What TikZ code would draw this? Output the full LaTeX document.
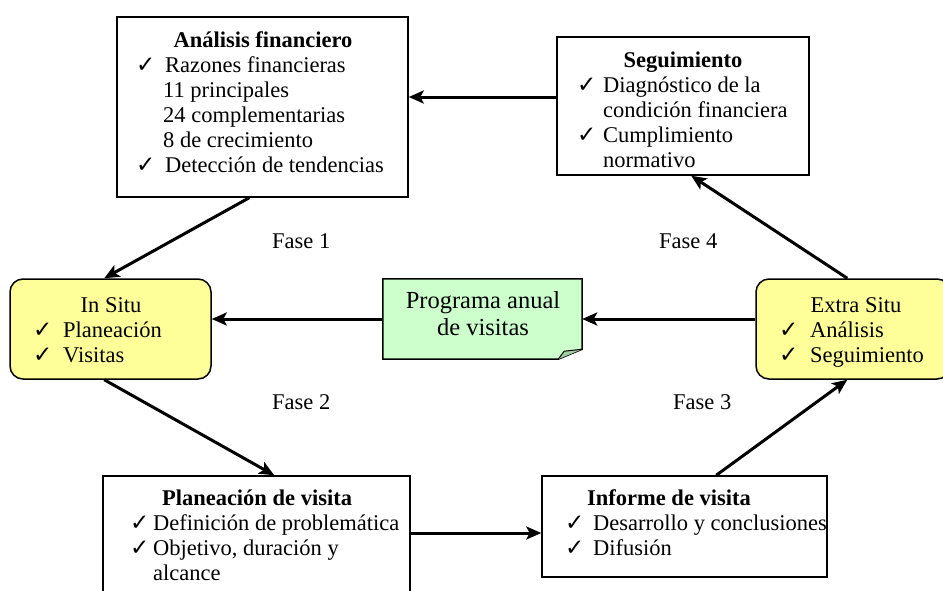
\documentclass[tikz,border=0pt]{standalone}
\usepackage{fontspec}
\setmainfont{Liberation Serif}
\newfontfamily\ckfont{DejaVu Sans}
\usetikzlibrary{arrows.meta,calc}

\definecolor{boxyellow}{RGB}{255,255,153}
\definecolor{notegreen}{RGB}{204,255,204}
\definecolor{notefold}{RGB}{160,205,160}

% check mark followed by text, the text starting #1 after the mark
\newcommand{\ck}{{\ckfont\fontsize{23}{23}\selectfont ✓}}
\newcommand{\chk}[2]{\makebox[#1][l]{\ck}#2}
\newcommand{\ind}[2]{\hspace*{#1}#2}

\begin{document}
\begin{tikzpicture}[x=1pt,y=-1pt,
  box/.style={draw, line width=1.5pt, inner sep=0pt},
  roundbox/.style={box, rounded corners=13pt, fill=boxyellow},
  txt/.style={inner sep=0pt, font=\fontsize{22.5}{25}\selectfont},
  flow/.style={line width=3pt, -{Stealth[length=15pt,width=13pt,inset=3.5pt]}},
]
\useasboundingbox (0,0) rectangle (943,590);
\fill[white] (0,0) rectangle (943,590);

% ---- boxes ----
\node[box, minimum width=291pt, minimum height=180pt] (fin) at (262.5,107) {};
\node[box, minimum width=252pt, minimum height=138pt] (seg) at (683,106) {};
\node[roundbox, minimum width=201pt, minimum height=100pt] (insitu) at (110.5,329) {};
\node[roundbox, minimum width=194pt, minimum height=100pt] (extra) at (853,329) {};
\node[inner sep=0pt, minimum width=199pt, minimum height=80pt] (prog) at (482.5,319) {};
\node[box, minimum width=307pt, minimum height=134pt] (plan) at (256.5,543) {};
\node[box, minimum width=285pt, minimum height=101pt] (inf) at (684.5,526.5) {};

% folded-corner note
\filldraw[fill=notegreen, line width=1.5pt]
  (prog.north west) -- (prog.north east) -- ($(prog.south east)+(0,-10)$)
  -- ($(prog.south east)+(-24,0)$) -- (prog.south west) -- cycle;
\filldraw[fill=notefold, line width=1pt, line join=round]
  ($(prog.south east)+(-24,0)$) -- ($(prog.south east)+(-18,-8)$)
  -- ($(prog.south east)+(0,-10)$);

% ---- texts ----
\node[txt, anchor=base] (fintitle) at (263,47) {\bfseries Análisis financiero};
\node[txt, anchor=base west] (finlist) at (136,72) {\begin{tabular}[t]{@{}l@{}}
  \chk{29pt}{Razones financieras}\\
  \ind{27pt}{11 principales}\\
  \ind{27pt}{24 complementarias}\\
  \ind{27pt}{8 de crecimiento}\\
  \chk{29pt}{Detección de tendencias}
\end{tabular}};

\node[txt, anchor=base] (segtitle) at (683,67) {\bfseries Seguimiento};
\node[txt, anchor=base west] (seglist) at (577,92) {\begin{tabular}[t]{@{}l@{}}
  \chk{26pt}{Diagnóstico de la}\\
  \ind{26pt}{condición financiera}\\
  \chk{26pt}{Cumplimiento}\\
  \ind{26pt}{normativo}
\end{tabular}};

\node[txt, anchor=base] (insitutitle) at (111,312) {In Situ};
\node[txt, anchor=base west] (insitulist) at (33,337) {\begin{tabular}[t]{@{}l@{}}
  \chk{30pt}{Planeación}\\
  \chk{30pt}{Visitas}
\end{tabular}};

\node[txt, anchor=base] (extratitle) at (856,312) {Extra Situ};
\node[txt, anchor=base west] (extralist) at (779,337) {\begin{tabular}[t]{@{}l@{}}
  \chk{31pt}{Análisis}\\
  \chk{31pt}{Seguimiento}
\end{tabular}};

\node[txt, anchor=base, font=\fontsize{24.5}{27}\selectfont] (progtext) at (483,308)
  {\begin{tabular}[t]{@{}c@{}}Programa anual\\ de visitas\end{tabular}};

\node[txt, anchor=base] (plantitle) at (257,505) {\bfseries Planeación de visita};
\node[txt, anchor=base west] (planlist) at (130,530) {\begin{tabular}[t]{@{}l@{}}
  \chk{23pt}{Definición de problemática}\\
  \chk{23pt}{Objetivo, duración y}\\
  \ind{23pt}{alcance}
\end{tabular}};

\node[txt, anchor=base] (inftitle) at (669,505) {\bfseries Informe de visita};
\node[txt, anchor=base west] (inflist) at (565,530) {\begin{tabular}[t]{@{}l@{}}
  \chk{28pt}{Desarrollo y conclusiones}\\
  \chk{28pt}{Difusión}
\end{tabular}};

% phase labels
\node[txt, anchor=base west] (f1) at (272,248) {Fase 1};
\node[txt, anchor=base west] (f4) at (659,248) {Fase 4};
\node[txt, anchor=base west] (f2) at (272,409) {Fase 2};
\node[txt, anchor=base west] (f3) at (673,409) {Fase 3};

% ---- connectors ----
\draw[flow] ($(seg.west)+(0,-9)$) -- ($(fin.east |- seg.west)+(0,-9)$);
\draw[flow] ($(fin.south west)+(133,0)$) -- ($(insitu.north west)+(95,0)$);
\draw[flow] (prog.west) -- (insitu.east |- prog.west);
\draw[flow] (extra.west |- prog.east) -- (prog.east);
\draw[flow] ($(extra.north west)+(92,0)$) -- ($(seg.south west)+(135,0)$);
\draw[flow] ($(insitu.south west)+(95,0)$) -- ($(plan.north west)+(172,0)$);
\draw[flow] ($(plan.east)+(0,-10)$) -- ($(inf.west |- plan.east)+(0,-10)$);
\draw[flow] ($(inf.north west)+(175,0)$) -- ($(extra.south west)+(92,0)$);
\end{tikzpicture}
\end{document}
